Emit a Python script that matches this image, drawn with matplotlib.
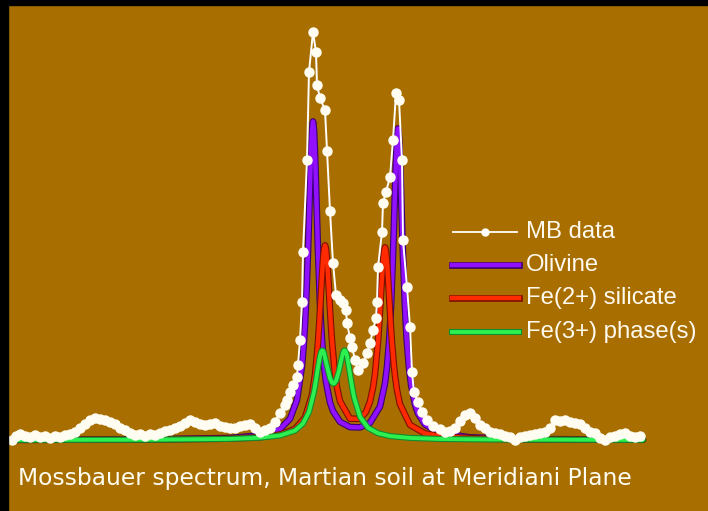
import numpy as np
import matplotlib
matplotlib.use("Agg")
import matplotlib.pyplot as plt
import matplotlib.patheffects as pe

# Mossbauer data: channel position and absorption (arbitrary units)
mb_x = [12, 16, 20, 25, 30, 35, 40, 45, 50, 55, 60, 65, 70, 75, 80, 85, 90, 95,
        100, 105, 110, 115, 120, 125, 130, 135, 140, 145, 150, 155, 160, 165, 170,
        175, 180, 185, 190, 195, 200, 205, 210, 215, 220, 225, 230, 235, 240, 245,
        250, 255, 260, 265, 270, 275, 280, 285, 287, 290, 293, 297, 298, 300, 302,
        303, 307, 309, 313, 316, 317, 320, 325, 327, 330, 333, 336, 340, 343, 346,
        347, 350, 352, 355, 358, 363, 367, 370, 373, 376, 377, 378, 382, 383, 386,
        390, 393, 396, 399, 402, 403, 407, 410, 412, 414, 418, 422, 427, 433, 440,
        445, 450, 455, 460, 465, 470, 475, 480, 485, 490, 495, 500, 505, 510, 515,
        520, 525, 530, 535, 540, 545, 550, 555, 560, 565, 570, 575, 580, 585, 590,
        595, 600, 605, 610, 615, 620, 625, 630, 635, 640]
mb_y = [0, 4, 6, 4, 3, 5, 3, 4, 2, 4, 3, 5, 6, 8, 12, 16, 20, 22,
        21, 20, 18, 16, 12, 10, 7, 5, 6, 4, 6, 5, 7, 9, 10,
        12, 14, 17, 20, 18, 16, 15, 16, 17, 14, 13, 12, 12, 14, 15,
        16, 12, 8, 10, 12, 18, 27, 35, 40, 48, 55, 63, 75, 100, 138,
        188, 280, 368, 408, 388, 355, 342, 330, 289, 229, 177, 145, 140, 137, 130,
        117, 102, 93, 80, 70, 77, 87, 97, 110, 122, 138, 173, 208, 237, 248,
        263, 300, 347, 340, 280, 200, 153, 113, 68, 48, 38, 28, 20, 14, 11,
        8, 9, 12, 19, 25, 27, 22, 15, 12, 8, 7, 6, 4, 3, 0,
        3, 4, 5, 6, 7, 8, 12, 20, 19, 20, 18, 17, 16, 12, 8,
        7, 2, 0, 3, 4, 6, 7, 4, 3, 4]

# fitted components
oliv_x = [12, 150, 230, 260, 280, 290, 297, 302, 304, 305, 306, 308, 309, 310, 311, 312,
          313, 314, 315, 316, 317, 318, 320, 321, 322, 324, 326, 330, 333, 340, 350, 360,
          370, 380, 385, 387, 389, 390, 391, 393, 394, 395, 396, 397, 398, 399, 400, 401,
          402, 403, 405, 406, 407, 409, 411, 415, 418, 425, 440, 470, 520, 643]
oliv_y = [0.2, 0.6, 2.0, 4.6, 10.9, 21.2, 40.2, 73.9, 98.7, 115.4, 135.6, 188.4, 220.9,
          255.0, 286.7, 309.9, 318.5, 309.9, 286.9, 255.2, 221.2, 188.8, 136.2, 116.0,
          99.5, 74.8, 57.9, 37.5, 28.9, 18.2, 12.9, 12.6, 17.1, 33.5, 56.6, 73.2, 97.4,
          113.5, 133.2, 184.8, 216.3, 249.7, 280.6, 303.2, 311.6, 303.1, 280.5, 249.5,
          216.0, 184.4, 132.6, 112.9, 96.7, 72.3, 55.6, 35.4, 26.6, 15.5, 6.9, 2.6, 1.0,
          0.3]

fe2_x = [12, 150, 230, 260, 280, 295, 305, 312, 315, 317, 318, 319, 320, 321, 322, 323,
         324, 325, 326, 327, 328, 329, 330, 331, 332, 334, 335, 337, 340, 350, 360, 366,
         370, 373, 375, 378, 379, 380, 381, 382, 383, 384, 385, 386, 387, 388, 389, 390,
         391, 392, 394, 395, 397, 400, 410, 425, 445, 480, 530, 643]
fe2_y = [0.2, 0.5, 1.4, 2.8, 5.4, 11.0, 22.4, 44.9, 64.9, 85.3, 98.0, 112.8, 129.3,
         146.9, 164.5, 179.9, 190.7, 194.6, 190.8, 180.2, 165.0, 147.6, 130.1, 113.8,
         99.2, 75.9, 66.7, 52.5, 38.8, 21.3, 21.2, 28.1, 38.5, 52.1, 66.2, 98.3, 112.6,
         128.8, 146.2, 163.4, 178.4, 188.9, 192.6, 188.7, 178.1, 162.8, 145.5, 128.0,
         111.6, 97.1, 73.6, 64.3, 49.9, 35.7, 15.1, 6.5, 3.2, 1.4, 0.7, 0.3]

fe3_x = [12, 150, 230, 260, 280, 295, 303, 309, 314, 316, 318, 320, 321, 322, 323, 324,
         327, 330, 332, 333, 334, 336, 339, 341, 343, 344, 345, 346, 347, 350, 352, 354,
         360, 368, 378, 390, 410, 440, 490, 643]
fe3_y = [0.1, 0.3, 1.1, 2.3, 4.5, 9.4, 16.4, 28.1, 48.0, 59.6, 72.7, 84.1, 87.8, 89.6,
         89.3, 87.0, 73.9, 61.8, 57.4, 56.5, 56.5, 59.1, 69.3, 78.8, 87.0, 89.3, 89.6,
         87.8, 84.1, 66.1, 53.5, 42.9, 23.2, 12.2, 6.8, 3.9, 2.1, 1.0, 0.5, 0.1]

labels = ["MB data", "Olivine", "Fe(2+) silicate", "Fe(3+) phase(s)"]
caption = "Mossbauer spectrum, Martian soil at Meridiani Plane"

bg = "#a86f00"
W, H = 708, 511
fig = plt.figure(figsize=(W / 100, H / 100), dpi=100, facecolor=bg)
ax = fig.add_axes([0, 0, 1, 1])
ax.set_facecolor(bg)
ax.set_xlim(0, W)
ax.set_ylim(440 - H, 440)
ax.axis("off")

# black frame on the left and top
fig.patches.append(plt.Rectangle((0, 0), 8 / W, 1, transform=fig.transFigure,
                                 color="black", zorder=10))
fig.patches.append(plt.Rectangle((0, 1 - 5 / H), 1, 5 / H, transform=fig.transFigure,
                                 color="black", zorder=10))

styles = [
    dict(color="#9010ff", edge="#3c0070", lw=3.2),
    dict(color="#ff2a00", edge="#7a1000", lw=3.2),
    dict(color="#2cf050", edge="#138a2c", lw=2.8),
]
comps = [(oliv_x, oliv_y), (fe2_x, fe2_y), (fe3_x, fe3_y)]
for (cx, cy), st, z in zip(comps, styles, [3, 4, 5]):
    ax.plot(cx, cy, color=st["color"], lw=st["lw"], zorder=z, solid_capstyle="round",
            solid_joinstyle="round",
            path_effects=[pe.Stroke(linewidth=st["lw"] + 1.6, foreground=st["edge"]),
                          pe.Normal()])

ax.plot(mb_x, mb_y, color="white", lw=1.4, marker="o", ms=6.5, mfc="#fffdf2",
        mec="#fffdf2", zorder=6)

# legend drawn by hand
rows = [208, 175, 142, 108]
ax.plot([453, 517], [rows[0], rows[0]], color="white", lw=1.3, zorder=6)
ax.plot([485], [rows[0]], "o", ms=5, color="white", zorder=6)
for r, st in zip(rows[1:], styles):
    ax.plot([452, 519], [r, r], color=st["color"], lw=st["lw"], zorder=6,
            path_effects=[pe.Stroke(linewidth=st["lw"] + 1.6, foreground=st["edge"]),
                          pe.Normal()])
for r, lab in zip(rows, labels):
    ax.text(526, r, lab, color="#fffaf0", fontsize=17.2, family="Liberation Sans",
            va="center", ha="left", zorder=7)

ax.text(18, 440 - 478, caption, color="#fffcf0", fontsize=16.8, family="DejaVu Sans",
        va="center", ha="left", zorder=7)

fig.savefig("out.png", dpi=100, facecolor=bg)
